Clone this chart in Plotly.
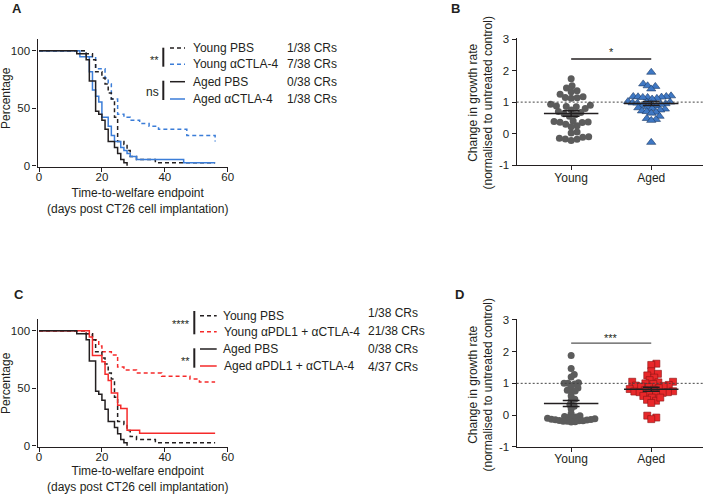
import numpy as np
import plotly.graph_objects as go

W, H = 708, 494
FONT = "Arial, Liberation Sans, Helvetica, sans-serif"
INK = "#231f20"
BLUE = "#3b7dd8"
RED = "#f52a2a"
GREY = "#5c5c5c"
DASH = "4px,3px"

# ---- Kaplan-Meier steps (day, % surviving) ----
young_pbs_days = [0, 15, 17, 18, 20, 21, 22, 23, 24, 25, 27, 28, 29, 31, 37, 56]
young_pbs_surv = [100, 97.4, 92.1, 81.6, 76.3, 71.1, 63.2, 57.9, 42.1, 21.1, 18.4, 13.2, 7.9, 5.3, 2.6, 2.6]

aged_pbs_days = [0, 12, 15, 16, 18, 19, 20, 21, 22, 24, 25, 26, 27, 28]
aged_pbs_surv = [100, 97.4, 92.1, 73.7, 47.4, 44.7, 39.5, 31.6, 21.1, 15.8, 10.5, 5.3, 2.6, 0]

young_ctla4_days = [0, 15, 18, 21, 22, 23, 25, 27, 29, 32, 35, 38, 47, 56]
young_ctla4_surv = [100, 94.7, 84.2, 76.3, 71.1, 57.9, 44.7, 42.1, 39.5, 36.8, 34.2, 31.6, 26.3, 21.1]

aged_ctla4_days = [0, 13, 16, 17, 18, 19, 20, 22, 23, 24, 26, 27, 28, 29, 31, 46, 56]
aged_ctla4_surv = [100, 94.7, 81.6, 65.8, 60.5, 55.3, 42.1, 34.2, 26.3, 21.1, 15.8, 13.2, 10.5, 7.9, 5.3, 2.6, 2.6]

young_combo_days = [0, 15, 17, 19, 20, 23, 25, 27, 31, 39, 48, 51, 56]
young_combo_surv = [100, 97.4, 92.1, 86.8, 81.6, 78.9, 68.4, 65.8, 63.2, 60.5, 57.9, 55.3, 55.3]

aged_combo_days = [0, 16, 17, 20, 21, 22, 23, 25, 26, 28, 32, 56]
aged_combo_surv = [100, 94.6, 78.4, 73.0, 62.2, 56.8, 45.9, 35.1, 32.4, 13.5, 10.8, 10.8]

legend_a = ["Young PBS", "Young αCTLA-4", "Aged PBS", "Aged αCTLA-4"]
crs_a = ["1/38 CRs", "7/38 CRs", "0/38 CRs", "1/38 CRs"]
legend_c = ["Young PBS", "Young αPDL1 + αCTLA-4", "Aged PBS", "Aged αPDL1 + αCTLA-4"]
crs_c = ["1/38 CRs", "21/38 CRs", "0/38 CRs", "4/37 CRs"]

# ---- growth-rate change per mouse ----
b_young = [1.74, 1.52, 1.45, 1.36, 1.33, 1.25, 1.17, 1.15, 1.14, 1.12, 0.93, 0.90, 0.88,
           0.86, 0.85, 0.80, 0.67, 0.63, 0.60, 0.55, 0.70, 0.40, 0.38, 0.37, 0.36, 0.35,
           0.25, 0.22, 0.30, 0.02, 0.05, -0.10, -0.12, -0.15, -0.17, -0.18, -0.22, 0.75]
b_aged = [1.95, 1.58, 1.52, 1.50, 1.42, 1.20, 1.18, 1.18, 1.17, 1.16, 1.15, 1.15, 1.12,
          1.10, 1.02, 1.00, 1.00, 0.98, 0.97, 0.95, 0.95, 0.93, 0.90, 0.88, 0.85, 0.82,
          0.80, 0.78, 0.75, 0.72, 0.70, 0.68, 0.65, 0.55, 0.48, 0.45, 0.42, -0.28]
d_young = [1.88, 1.47, 1.28, 1.20, 1.02, 1.00, 1.00, 0.98, 0.85, 0.78, 0.76, 0.75, 0.60,
           0.50, 0.32, 0.28, 0.20, 0.05, -0.02, -0.05, -0.06, -0.08, -0.10, -0.10, -0.12,
           -0.13, -0.14, -0.15, -0.16, -0.17, -0.18, -0.18, -0.20, -0.20, -0.21, -0.22,
           0.45, 0.92]
d_aged = [1.62, 1.58, 1.38, 1.30, 1.25, 1.18, 1.10, 1.05, 1.05, 1.03, 1.00, 0.98, 0.95,
          0.93, 0.92, 0.90, 0.88, 0.85, 0.82, 0.80, 0.78, 0.75, 0.74, 0.72, 0.72, 0.70,
          0.70, 0.65, 0.60, 0.55, 0.48, 0.45, 0.38, 0.55, -0.02, -0.08, -0.13]
groups = ["Young", "Aged"]


def px(x):
    return x / W


def py(y):
    return 1 - y / H


def swarm(vals, ppu_x, ppu_y, diam):
    # greedy beeswarm (points may overlap a little, like the Prism layout)
    vals = np.asarray(vals, dtype=float)
    placed = []
    offs = np.zeros(len(vals))
    for i in np.argsort(vals):
        y = vals[i] * ppu_y
        near = [(a, b) for a, b in placed if abs(b - y) < diam]
        cands = [0.0]
        for a, b in near:
            dx = np.sqrt(diam ** 2 - (b - y) ** 2)
            cands += [a + dx, a - dx]
        cands.sort(key=abs)
        for c in cands:
            if all((c - a) ** 2 + (y - b) ** 2 >= diam ** 2 - 1e-6 for a, b in near):
                offs[i] = c
                placed.append((c, y))
                break
    return offs / ppu_x


fig = go.Figure()


def km(days, surv, color, dash, xa, ya):
    fig.add_trace(go.Scatter(
        x=days, y=surv, mode="lines", line_shape="hv",
        line=dict(color=color, width=1.5, dash=dash),
        xaxis=xa, yaxis=ya, showlegend=False, hoverinfo="skip",
    ))


# panel A
km(young_ctla4_days, young_ctla4_surv, BLUE, DASH, "x", "y")
km(young_pbs_days, young_pbs_surv, INK, DASH, "x", "y")
km(aged_ctla4_days, aged_ctla4_surv, BLUE, "solid", "x", "y")
km(aged_pbs_days, aged_pbs_surv, INK, "solid", "x", "y")
# panel C
km(young_combo_days, young_combo_surv, RED, DASH, "x3", "y3")
km(young_pbs_days, young_pbs_surv, INK, DASH, "x3", "y3")
km(aged_combo_days, aged_combo_surv, RED, "solid", "x3", "y3")
km(aged_pbs_days, aged_pbs_surv, INK, "solid", "x3", "y3")

PPU_X = (703.3 - 516.7) / (2.65 - 0.32)
PPU_B = (165 - 38.3) / 4.03
PPU_D = (446.7 - 319) / 4.03


def dots(vals, pos, ppu_y, symbol, size, fill, edge, xa, ya, gap):
    off = swarm(vals, PPU_X, ppu_y, gap)
    fig.add_trace(go.Scatter(
        x=pos + off, y=vals, mode="markers",
        marker=dict(symbol=symbol, size=size, color=fill,
                    line=dict(color=edge, width=0.6 if edge else 0)),
        xaxis=xa, yaxis=ya, showlegend=False, hoverinfo="skip", cliponaxis=False,
    ))
    v = np.asarray(vals)
    m = v.mean()
    s = v.std(ddof=1) / np.sqrt(len(v))
    ln = dict(color=INK, width=1.5)
    for xs, ys in [([pos - 0.34, pos + 0.34], [m, m]),
                   ([pos, pos], [m - s, m + s]),
                   ([pos - 0.105, pos + 0.105], [m + s, m + s]),
                   ([pos - 0.105, pos + 0.105], [m - s, m - s])]:
        fig.add_trace(go.Scatter(x=xs, y=ys, mode="lines", line=ln, xaxis=xa, yaxis=ya,
                                 showlegend=False, hoverinfo="skip"))


dots(b_young, 1, PPU_B, "circle", 7, GREY, None, "x2", "y2", 6.0)
dots(b_aged, 2, PPU_B, "triangle-up", 8, "#3f78c4", "#1d3a66", "x2", "y2", 4.8)
dots(d_young, 1, PPU_D, "circle", 7, GREY, None, "x4", "y4", 4.0)
dots(d_aged, 2, PPU_D, "square", 7, "#e8282a", "#8a1414", "x4", "y4", 5.3)


def axis(domain, rng, tickvals, ticktext, anchor, size=11.5, standoff=0):
    return dict(domain=domain, range=rng, tickmode="array", tickvals=tickvals,
                ticktext=ticktext, showline=True, linecolor=INK, linewidth=1.3,
                ticks="outside", ticklen=4, tickwidth=1.3, tickcolor=INK,
                showgrid=False, zeroline=False, anchor=anchor, fixedrange=True,
                automargin=False, ticklabelstandoff=standoff,
                tickfont=dict(family=FONT, size=size, color=INK))


km_x = [0, 20, 40, 60]
km_y = [0, 50, 100]
gr_y = [-1, 0, 1, 2, 3]

shapes = []
ann = []


def text(t, x, y, size=12, xanchor="center", yanchor="middle", bold=False, angle=0):
    ann.append(dict(text=f"<b>{t}</b>" if bold else t, x=px(x), y=py(y), xref="paper",
                    yref="paper", showarrow=False, xanchor=xanchor, yanchor=yanchor,
                    textangle=angle, borderpad=0,
                    font=dict(family=FONT, size=size, color=INK)))


def seg(x0, y0, x1, y1, color=INK, width=1.5, dash="solid"):
    shapes.append(dict(type="line", xref="paper", yref="paper", x0=px(x0), y0=py(y0),
                       x1=px(x1), y1=py(y1), line=dict(color=color, width=width, dash=dash)))


# panel labels
text("A", 17, 8, 13, bold=True)
text("B", 456, 8, 13, bold=True)
text("C", 19, 294, 13, bold=True)
text("D", 459, 294, 13, bold=True)

# KM axis titles
for yc, yt in [(98, 201), (383, 479)]:
    text("Percentage", 6, yc, 12, angle=-90)
    text("Time-to-welfare endpoint<br>(days post CT26 cell implantation)", 137, yt, 12)

# growth-rate axis titles
for yc in [103, 385]:
    text("Change in growth rate<br>(normalised to untreated control)", 480.5, yc, 12, angle=-90)

# legend A
rows_a = [48, 64.3, 81.7, 99]
styles_a = [(INK, DASH), (BLUE, DASH), (INK, "solid"), (BLUE, "solid")]
for lab, cr, r, (c, d) in zip(legend_a, crs_a, rows_a, styles_a):
    seg(170, r, 185, r, c, 1.5, d)
    text(lab, 191.5, r, 12, xanchor="left")
    text(cr, 286, r, 12, xanchor="left")
seg(163.3, 47.7, 163.3, 66.7, INK, 2)
seg(163.3, 80.7, 163.3, 100, INK, 2)
text("**", 160, 60, 11, xanchor="right")
text("ns", 160, 91.5, 12, xanchor="right")

# legend C
rows_c = [315.7, 331.7, 349, 366]
rows_cr = [313, 331, 348.5, 367]
styles_c = [(INK, DASH), (RED, DASH), (INK, "solid"), (RED, "solid")]
for lab, r, (c, d) in zip(legend_c, rows_c, styles_c):
    seg(200, r, 216.7, r, c, 1.5, d)
    text(lab, 222.5, r, 12, xanchor="left")
for cr, r in zip(crs_c, rows_cr):
    text(cr, 367, r, 12, xanchor="left")
seg(194.3, 311, 194.3, 334.3, INK, 2)
seg(194.3, 348.3, 194.3, 367.7, INK, 2)
text("****", 191, 324, 11, xanchor="right")
text("**", 191, 361, 11, xanchor="right")

# reference line at 1 and significance bars
for xa, ya, ysig, stars, color, ys in [("x2", "y2", 2.37, "*", INK, 0),
                                       ("x4", "y4", 2.27, "***", "#555555", -2)]:
    shapes.append(dict(type="line", xref=f"{xa} domain", yref=ya, x0=0, x1=1, y0=1, y1=1,
                       line=dict(color="#444444", width=1, dash="2px,2px")))
    shapes.append(dict(type="line", xref=xa, yref=ya, x0=1, x1=2, y0=ysig, y1=ysig,
                       line=dict(color=color, width=1.4)))
    ann.append(dict(text=stars, x=1.5, y=ysig, xref=xa, yref=ya, showarrow=False,
                    yanchor="bottom", yshift=ys, borderpad=0,
                    font=dict(family=FONT, size=11, color=INK)))

fig.update_layout(
    width=W, height=H, autosize=False,
    margin=dict(l=0, r=0, t=0, b=0, pad=0, autoexpand=False),
    paper_bgcolor="white", plot_bgcolor="white",
    showlegend=False,
    xaxis=axis([px(37.5), px(227.7)], [-0.48, 60], km_x, [str(v) for v in km_x], "y", 11.5, -5),
    yaxis=axis([py(166.85), py(39.2)], [-1, 110], km_y, [str(v) for v in km_y], "x"),
    xaxis3=axis([px(37.5), px(227.7)], [-0.48, 60], km_x, [str(v) for v in km_x], "y3", 11.5, -5),
    yaxis3=axis([py(446.85), py(319.2)], [-1, 110], km_y, [str(v) for v in km_y], "x3"),
    xaxis2=axis([px(516.7), px(703.3)], [0.32, 2.65], [1, 2], groups, "y2", 12, -3),
    yaxis2=axis([py(165), py(38.3)], [-1, 3.03], gr_y, [str(v) for v in gr_y], "x2"),
    xaxis4=axis([px(516.7), px(703.3)], [0.32, 2.65], [1, 2], groups, "y4", 12, -3),
    yaxis4=axis([py(446.7), py(319)], [-1, 3.03], gr_y, [str(v) for v in gr_y], "x4"),
    shapes=shapes,
    annotations=ann,
)

# the page body has a default margin; remove it so the figure fills the window
fig.write_html("out.html", config={"displayModeBar": False},
               post_script="document.body.style.margin='0';")
